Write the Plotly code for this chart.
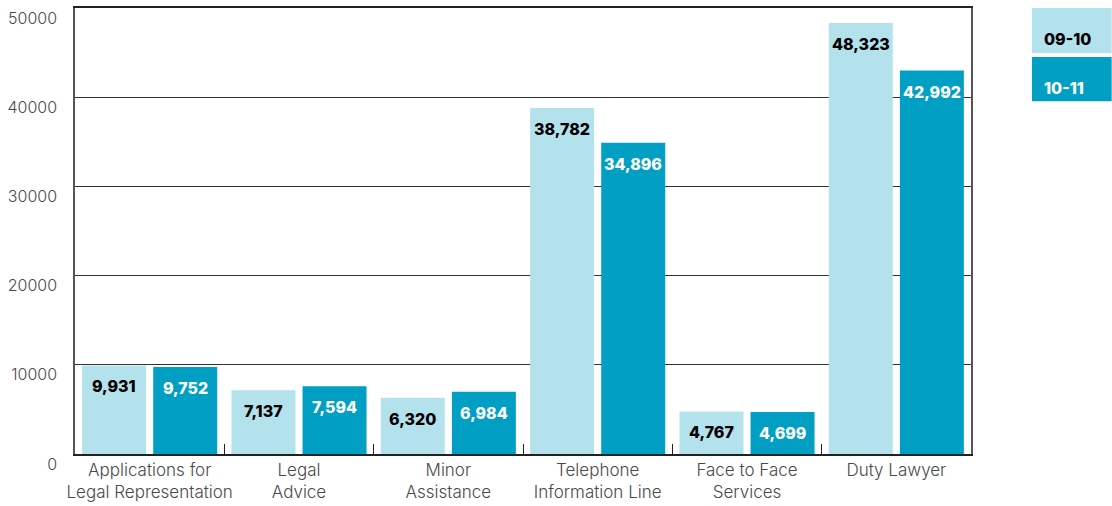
import plotly.graph_objects as go

categories = [
    "Applications for<br>Legal Representation",
    "Legal<br>Advice",
    "Minor<br>Assistance",
    "Telephone<br>Information Line",
    "Face to Face<br>Services",
    "Duty Lawyer",
]
series_names = ["09-10", "10-11"]
values_0910 = [9931, 7137, 6320, 38782, 4767, 48323]
values_1011 = [9752, 7594, 6984, 34896, 4699, 42992]
y_ticks = [0, 10000, 20000, 30000, 40000, 50000]

light = "#b3e1ec"
dark = "#009fc3"
label_font = "Inter"
axis_font = "Inter"

fig = go.Figure()
fig.add_trace(go.Bar(x=categories, y=values_0910, name=series_names[0],
                     marker=dict(color=light, line=dict(width=0))))
fig.add_trace(go.Bar(x=categories, y=values_1011, name=series_names[1],
                     marker=dict(color=dark, line=dict(width=0))))

# value labels just inside the top of each bar
annotations = []
for vals, shift, col in [(values_0910, -35.5, "#000000"), (values_1011, 35.5, "#ffffff")]:
    for c, v in zip(categories, vals):
        annotations.append(dict(
            x=c, y=v, xref="x", yref="y", text=f"{v:,}", showarrow=False,
            xshift=shift, yshift=-21, xanchor="center", yanchor="middle",
            font=dict(family=label_font, size=16, color=col, weight=800),
        ))

# legend boxes at the upper right
shapes = [
    dict(type="rect", xref="paper", yref="paper", x0=1.068, x1=1.157, y0=0.899, y1=1.0,
         fillcolor=light, line=dict(width=0), layer="above"),
    dict(type="rect", xref="paper", yref="paper", x0=1.068, x1=1.157, y0=0.791, y1=0.890,
         fillcolor=dark, line=dict(width=0), layer="above"),
]
annotations += [
    dict(x=1.079, y=0.931, xref="paper", yref="paper", text=series_names[0], showarrow=False,
         xanchor="left", yanchor="middle",
         font=dict(family=label_font, size=16, color="#000000", weight=800)),
    dict(x=1.079, y=0.821, xref="paper", yref="paper", text=series_names[1], showarrow=False,
         xanchor="left", yanchor="middle",
         font=dict(family=label_font, size=16, color="#ffffff", weight=800)),
]

fig.update_layout(
    width=1112, height=506,
    margin=dict(l=75, r=141, t=8, b=52, autoexpand=False),
    paper_bgcolor="white", plot_bgcolor="white",
    barmode="group", bargap=0.048, bargroupgap=0.1,
    showlegend=False,
    shapes=shapes, annotations=annotations,
    font=dict(family=axis_font, color="#4a4a4a"),
)
fig.update_xaxes(
    type="category", showline=True, linecolor="#222222", linewidth=1.5, mirror=True,
    ticks="inside", tickson="boundaries", ticklen=10, tickcolor="#222222",
    tickangle=0, automargin=False,
    tickfont=dict(family=axis_font, size=17, color="#4a4a4a", weight=300),
    showgrid=False,
)
fig.update_yaxes(
    range=[0, 50000], tickvals=y_ticks, ticktext=[str(t) for t in y_ticks],
    showline=True, linecolor="#555555", linewidth=1.5, mirror=True,
    showgrid=True, gridcolor="#333333", gridwidth=1, zeroline=False,
    ticks="", ticklabelstandoff=13, ticklabelshift=10, automargin=False,
    tickfont=dict(family=axis_font, size=16, color="#4a4a4a", weight=300),
)

fig.write_html("out.html")
